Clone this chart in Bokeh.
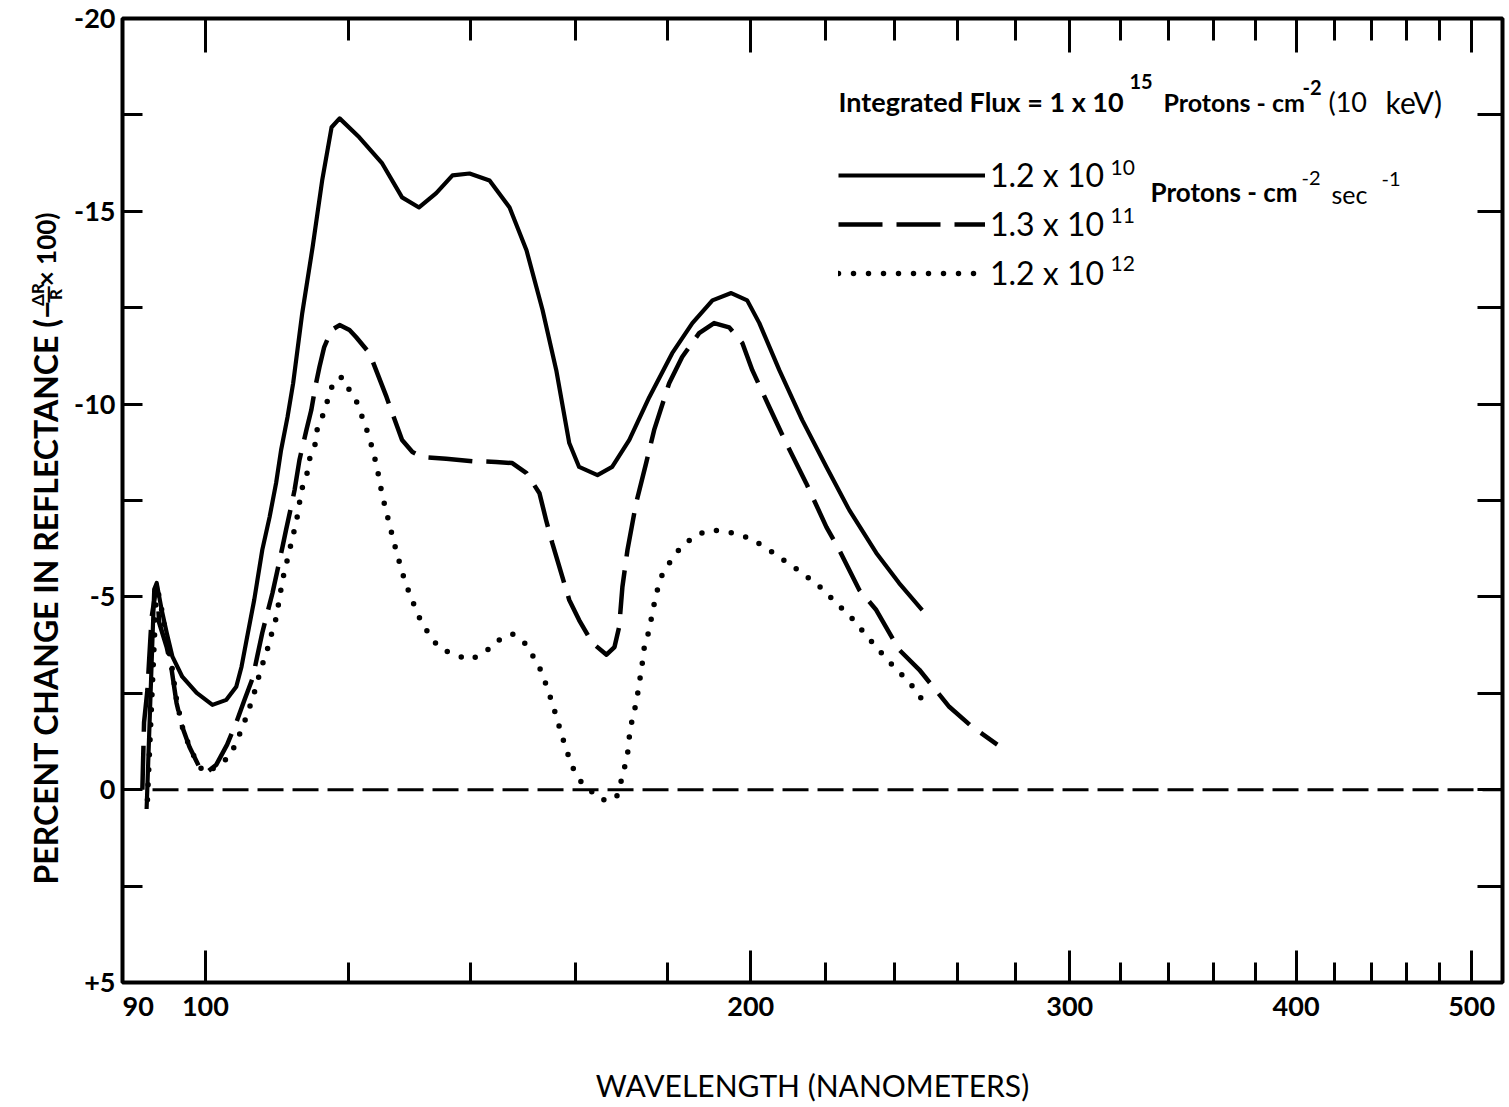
from math import pi

from bokeh.plotting import figure
from bokeh.layouts import row
from bokeh.models import (Range1d, FixedTicker, LogAxis, LinearAxis, Label,
                          Legend, LegendItem, CustomJSTickFormatter)
from bokeh.embed import file_html
from bokeh.resources import INLINE

# Percent change in reflectance (-dR/R x 100) versus wavelength (nm)
# after an integrated flux of 1e15 protons/cm^2 at three flux rates.

# 1.2 x 10^10 protons cm^-2 s^-1
WL_RATE_1 = [92.8, 93.7, 94.0, 94.6, 95.2, 95.9, 97.1, 98.9, 100.9, 102.7,
             104.0, 104.7, 105.3, 106.4, 107.5, 108.5, 109.4, 110.1, 111.0, 111.8,
             113.1, 114.6, 116.0, 117.4, 118.6, 121.6, 125.2, 128.4, 131.2, 134.1,
             136.9, 139.9, 143.5, 147.2, 150.4, 153.5, 156.2, 158.8, 160.8, 164.6,
             167.7, 171.4, 175.8, 181.0, 185.7, 190.5, 195.1, 199.1, 202.2, 207.4,
             213.5, 220.2, 226.7, 234.6, 241.5, 248.7]
DR_RATE_1 = [0.5, -5.2, -5.36, -4.66, -4.07, -3.45, -2.93, -2.51, -2.20, -2.33,
             -2.67, -3.19, -3.81, -4.92, -6.22, -7.07, -7.95, -8.81, -9.66, -10.54,
             -12.36, -14.07, -15.80, -17.18, -17.41, -16.92, -16.24, -15.36, -15.10, -15.47,
             -15.93, -15.98, -15.80, -15.10, -13.99, -12.44, -10.88, -8.99, -8.37, -8.16,
             -8.37, -9.07, -10.18, -11.32, -12.10, -12.69, -12.88, -12.69, -12.10, -10.88,
             -9.59, -8.37, -7.25, -6.14, -5.36, -4.66]

# 1.3 x 10^11 protons cm^-2 s^-1
WL_RATE_2 = [92.3, 92.5, 92.9, 93.1, 93.4, 94.0, 94.3, 95.2, 95.8, 96.4,
             97.1, 98.0, 99.2, 100.1, 101.4, 102.8, 104.0, 105.1, 106.2, 106.8,
             107.5, 108.2, 108.9, 109.6, 110.3, 110.8, 111.5, 112.0, 112.7, 113.7,
             114.4, 115.1, 115.6, 116.3, 117.4, 118.6, 120.1, 121.1, 123.2, 125.9,
             126.8, 128.4, 130.1, 131.7, 135.8, 140.4, 144.7, 147.7, 150.4, 152.9,
             154.2, 155.4, 158.8, 160.8, 163.5, 166.5, 168.2, 169.2, 169.9, 171.0,
             172.9, 175.1, 176.9, 180.3, 183.3, 187.3, 190.9, 194.6, 197.9, 200.4,
             204.8, 209.2, 214.6, 220.2, 223.8, 229.6, 234.6, 241.5, 247.8, 257.4,
             265.0, 273.6]
DR_RATE_2 = [0.0, -1.74, -2.59, -3.37, -4.48, -5.31, -4.33, -3.70, -3.11, -2.25,
             -1.63, -1.11, -0.60, -0.44, -0.65, -1.17, -1.74, -2.33, -2.90, -3.45,
             -4.07, -4.59, -5.10, -5.70, -6.30, -6.74, -7.33, -7.77, -8.55, -9.33,
             -9.84, -10.54, -10.96, -11.48, -11.92, -12.05, -11.92, -11.74, -11.32, -10.18,
             -9.77, -9.07, -8.76, -8.63, -8.58, -8.52, -8.50, -8.47, -8.21, -7.69,
             -6.99, -6.40, -4.92, -4.40, -3.81, -3.50, -3.70, -4.22, -5.26, -6.22,
             -7.44, -8.47, -9.33, -10.54, -11.22, -11.84, -12.10, -11.99, -11.58, -10.88,
             -9.92, -8.99, -7.95, -6.81, -6.22, -5.18, -4.66, -3.63, -3.11, -2.15,
             -1.63, -1.17]

# 1.2 x 10^12 protons cm^-2 s^-1
WL_RATE_3 = [92.9, 94.0, 94.6, 95.2, 95.8, 96.4, 97.1, 98.0, 99.2, 100.1,
             101.4, 103.1, 104.0, 105.1, 105.8, 106.4, 107.4, 108.1, 108.5, 109.2,
             109.6, 110.3, 110.8, 111.3, 112.3, 113.0, 113.8, 114.1, 114.9, 115.3,
             116.3, 117.1, 117.8, 119.0, 119.8, 121.1, 122.4, 123.2, 124.3, 125.2,
             126.3, 127.1, 128.0, 128.8, 129.9, 131.2, 132.9, 134.6, 136.9, 139.9,
             142.6, 144.9, 147.7, 150.0, 151.5, 153.3, 154.4, 155.4, 156.4, 157.4,
             158.2, 159.4, 160.8, 162.9, 165.4, 167.1, 168.6, 169.9, 171.0, 171.4,
             172.0, 172.9, 173.6, 174.2, 174.7, 175.8, 176.5, 177.4, 178.7, 180.8,
             183.1, 186.6, 190.2, 194.6, 199.6, 204.0, 209.2, 213.5, 218.8, 223.0,
             227.3, 231.0, 234.6, 237.9, 241.5, 245.3, 248.7]
DR_RATE_3 = [0.26, -5.31, -4.66, -3.89, -3.24, -2.33, -1.63, -1.11, -0.60, -0.44,
             -0.60, -0.85, -1.22, -1.76, -2.15, -2.51, -3.19, -3.55, -3.89, -4.27,
             -4.66, -5.44, -5.83, -6.22, -6.99, -7.77, -8.21, -8.55, -8.89, -9.38,
             -9.79, -10.28, -10.62, -10.70, -10.44, -10.10, -9.51, -9.12, -8.42, -7.64,
             -6.92, -6.40, -5.88, -5.44, -4.97, -4.48, -4.02, -3.68, -3.52, -3.37,
             -3.55, -3.86, -4.04, -3.81, -3.50, -3.06, -2.64, -2.25, -1.81, -1.37,
             -1.04, -0.60, -0.26, 0.0, 0.26, 0.26, 0.21, -0.34, -0.91, -1.37,
             -1.81, -2.25, -2.77, -3.24, -3.70, -4.15, -4.59, -5.10, -5.57, -5.96,
             -6.30, -6.61, -6.74, -6.68, -6.53, -6.27, -5.91, -5.62, -5.23, -4.84,
             -4.46, -4.07, -3.70, -3.37, -3.06, -2.72, -2.33]

# zero-change reference line
BASE_WL = [93.5, 520.0]
BASE_DR = [0.0, 0.0]

# axes
X_RANGE = (90, 520)
Y_RANGE = (5, -20)          # reversed: -20 at the top
X_LABELED = [90, 100, 200, 300, 400, 500]
X_MAJOR = [100, 200, 300, 400, 500]
X_MINOR = [120, 140, 160, 180, 220, 240, 260, 280, 320, 340, 360, 380,
           420, 440, 460, 480]
Y_MAJOR = [-20, -15, -10, -5, 0, 5]
Y_MINOR = [-17.5, -12.5, -7.5, -2.5, 2.5]

FONT = "Lato"
W, H = 1509, 1107
SIDE_W = 70                              # strip holding the y-axis title
LEFT, RIGHT, TOP, BOTTOM = 122, 1502, 18, 982   # frame edges on the page

p = figure(width=W - SIDE_W, height=H, x_axis_type="log",
           x_range=Range1d(*X_RANGE), y_range=Range1d(*Y_RANGE),
           output_backend="svg", toolbar_location=None,
           min_border_left=LEFT - SIDE_W, min_border_right=W - RIGHT,
           min_border_top=TOP, min_border_bottom=H - BOTTOM)
p.background_fill_color = "white"
p.border_fill_color = "white"
p.outline_line_color = "black"
p.outline_line_width = 4
p.grid.visible = False


def style_ticks(ax, major_in, minor_in, width=3):
    ax.axis_line_color = None
    ax.major_tick_in = major_in
    ax.major_tick_out = 0
    ax.minor_tick_in = minor_in
    ax.minor_tick_out = 0
    ax.major_tick_line_width = width
    ax.minor_tick_line_width = width
    ax.major_tick_line_color = "black"
    ax.minor_tick_line_color = "black"


def hide_labels(ax):
    ax.formatter = CustomJSTickFormatter(code="return '';")
    ax.major_label_text_font_size = "1px"
    ax.major_label_standoff = 0


# bottom axis; the 90 at the left edge is set flush right of the frame corner
xb = p.xaxis[0]
xb.ticker = FixedTicker(ticks=X_LABELED, minor_ticks=X_MINOR)
xb.formatter = CustomJSTickFormatter(
    code="return tick == 90 ? '\\u2007\\u200790' : tick.toFixed(0);")
style_ticks(xb, 32, 20)
xb.major_label_text_font = FONT
xb.major_label_text_font_size = "27px"
xb.major_label_text_font_style = "bold"
xb.major_label_text_color = "black"
xb.major_label_standoff = 6
xb.axis_label = "WAVELENGTH (NANOMETERS)"
xb.axis_label_text_font = FONT
xb.axis_label_text_font_size = "30px"
xb.axis_label_text_font_style = "normal"
xb.axis_label_text_color = "black"
xb.axis_label_standoff = 42

# left axis
yl = p.yaxis[0]
yl.ticker = FixedTicker(ticks=Y_MAJOR, minor_ticks=Y_MINOR)
yl.formatter = CustomJSTickFormatter(
    code="return tick > 0 ? '+' + tick.toFixed(0) : tick.toFixed(0);")
style_ticks(yl, 20, 20)
yl.major_label_text_font = FONT
yl.major_label_text_font_size = "27px"
yl.major_label_text_font_style = "bold"
yl.major_label_text_color = "black"
yl.major_label_standoff = 7

# mirrored ticks on top and right
xt = LogAxis(ticker=FixedTicker(ticks=X_MAJOR, minor_ticks=X_MINOR))
style_ticks(xt, 34, 22)
hide_labels(xt)
p.add_layout(xt, "above")

yr = LinearAxis(ticker=FixedTicker(ticks=Y_MAJOR, minor_ticks=Y_MINOR))
style_ticks(yr, 25, 25)
hide_labels(yr)
p.add_layout(yr, "right")

# curves
p.line(BASE_WL, BASE_DR, line_color="black", line_width=3, line_dash="26 9")
r1 = p.line(WL_RATE_1, DR_RATE_1, line_color="black", line_width=4.2,
            line_join="round")
r2 = p.line(WL_RATE_2, DR_RATE_2, line_color="black", line_width=4.5,
            line_dash="44 14", line_join="round")
r3 = p.line(WL_RATE_3, DR_RATE_3, line_color="black", line_width=5.5,
            line_dash="0 15", line_cap="round", line_join="round")

# legend keys with the mantissa of each rate
legend = Legend(
    items=[LegendItem(label="1.2 x 10", renderers=[r1]),
           LegendItem(label="1.3 x 10", renderers=[r2]),
           LegendItem(label="1.2 x 10", renderers=[r3])],
    location=(838 - LEFT, BOTTOM - 292), orientation="vertical",
    glyph_width=147, glyph_height=38, label_height=38, label_standoff=5,
    spacing=10, padding=0, margin=0,
    border_line_color=None, background_fill_alpha=0,
    label_text_font=FONT, label_text_font_size="32px",
    label_text_color="black")
p.add_layout(legend)


def put(fig, text, sx, sy, size, weight="normal", align="left",
        baseline="alphabetic", angle=0.0):
    """Place a text piece at frame-relative pixel (sx, sy), y pointing up."""
    fig.add_layout(Label(x=sx, y=sy, x_units="screen", y_units="screen",
                         text=text, text_font=FONT,
                         text_font_size=f"{size}px", text_font_style=weight,
                         text_align=align, text_baseline=baseline,
                         angle=angle, text_color="black"))


def put_main(text, cx, cy, size, weight="normal", **kw):
    # cx, cy: page pixels, origin top-left
    put(p, text, cx - LEFT, BOTTOM - cy, size, weight, **kw)


# header line
put_main("Integrated Flux = 1 x 10", 838, 101, 27, "bold")
put_main("15", 1129, 81, 20, "bold")
put_main("Protons - cm", 1163, 101, 25, "bold")
put_main("-2", 1302, 87, 20, "bold")
put_main("(10", 1328, 101, 27)
put_main("keV)", 1385, 101, 30)

# exponents and units beside the legend entries
put_main("10", 1110, 167, 21)
put_main("Protons - cm", 1150, 191, 26, "bold")
put_main("-2", 1301, 177, 20)
put_main("sec", 1331, 193, 25)
put_main("-1", 1381, 178, 20)
put_main("11", 1110, 215, 21)
put_main("12", 1110, 263, 21)

# y-axis title strip, with the stacked dR/R fraction; its frame lines up
# with the main frame, so positions are measured from the same bottom edge
side = figure(width=SIDE_W, height=H, x_range=Range1d(0, SIDE_W),
              y_range=Range1d(0, H), output_backend="svg",
              toolbar_location=None, min_border=0,
              x_axis_location=None, y_axis_location=None)
side.outline_line_color = None
side.background_fill_color = "white"
side.border_fill_color = "white"
side.grid.visible = False


def put_side(text, cx, cy, size, weight="bold", **kw):
    put(side, text, cx, BOTTOM - cy, size, weight, baseline="middle",
        angle=pi / 2, **kw)


put_side("PERCENT CHANGE IN REFLECTANCE (\u2212", 45, 884, 32)
put_side("\u0394R", 37, 294, 17, align="center")
put_side("\u2014", 46, 294, 24, align="center")
put_side("R", 55, 294, 17, align="center")
put_side("\u00d7 100)", 45, 212, 26, align="right")

layout = row(side, p)
open("out.html", "w").write(file_html(layout, INLINE))
